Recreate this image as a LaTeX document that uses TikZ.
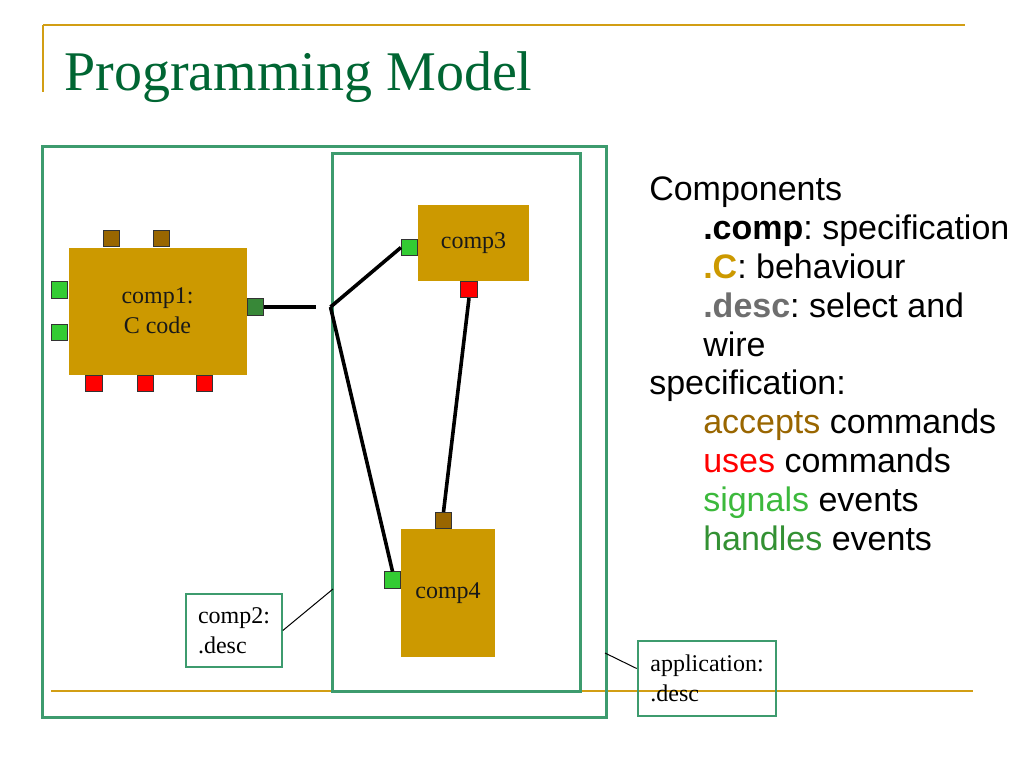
\documentclass[tikz,border=0pt]{standalone}
\usepackage{fontspec}
\setmainfont{Liberation Serif}
\newfontfamily\slidesans{Liberation Sans}
\frenchspacing

\definecolor{titlegreen}{RGB}{0,102,51}
\definecolor{rulegold}{RGB}{210,158,20}
\definecolor{boxgreen}{RGB}{61,155,110}
\definecolor{compgold}{RGB}{204,153,0}
\definecolor{accbrown}{RGB}{153,102,0}
\definecolor{usered}{RGB}{255,0,0}
\definecolor{siggreen}{RGB}{51,204,51}
\definecolor{hndgreen}{RGB}{56,136,56}
\definecolor{sigtext}{RGB}{60,185,60}
\definecolor{hndtext}{RGB}{51,145,51}
\definecolor{desctext}{RGB}{110,110,110}

\tikzset{
  comp/.style={fill=compgold, inner sep=0pt, align=center, text=black!90,
    font=\fontsize{18}{22.5}\selectfont},
  port/.style={draw=black!80, line width=0.7pt, minimum size=12.2pt, inner sep=0pt},
  accport/.style={port, fill=accbrown},
  useport/.style={port, fill=usered},
  sigport/.style={port, fill=siggreen},
  hndport/.style={port, fill=hndgreen},
  wire/.style={line width=2.7pt, black},
  boxline/.style={draw=boxgreen, line width=2.25pt, inner sep=0pt},
  labelbox/.style={draw=boxgreen, align=left, inner sep=0pt,
    font=\fontsize{18}{22.5}\selectfont},
  goldrule/.style={draw=rulegold, line width=2pt},
  spectext/.style={anchor=base west, inner sep=0pt,
    font=\slidesans\fontsize{25.5}{29}\selectfont},
}

\begin{document}
\begin{tikzpicture}[x=0.75pt,y=-0.75pt]
\fill[white] (0,0) rectangle (1024,768);
\useasboundingbox (0,0) rectangle (1024,768);

% slide rules and title
\draw[goldrule] (43,25) -- (965,25);
\draw[goldrule, line width=1.5pt] (43,25) -- (43,92);
\draw[goldrule] (51,691) -- (973,691);
\node[anchor=base west, inner sep=0pt, text=titlegreen,
      font=\fontsize{42}{42}\selectfont] (title) at (64,90) {Programming Model};

% application and comp2 boxes
\node[boxline, minimum width=423pt, minimum height=428.25pt] (appbox) at (324,431.5) {};
\node[boxline, minimum width=186pt, minimum height=403.5pt] (c2box) at (456,422) {};

% components
\node[comp, minimum width=133.5pt, minimum height=95.25pt] (comp1) at (157.5,311) {comp1:\\C code};
\node[comp, minimum width=83.25pt, minimum height=57pt] (comp3) at (473.5,243) {comp3};
\node[comp, minimum width=70.5pt, minimum height=96pt] (comp4) at (448,593) {comp4};

% interfaces
\node[accport] (c1a1) at (111.5,238.5) {};
\node[accport] (c1a2) at (161.5,238.5) {};
\node[sigport] (c1s1) at (59.5,290) {};
\node[sigport] (c1s2) at (59.5,332.5) {};
\node[hndport] (c1h) at (255.5,307) {};
\node[useport] (c1u1) at (94,383.5) {};
\node[useport] (c1u2) at (145.5,383.5) {};
\node[useport] (c1u3) at (204.5,383.5) {};
\node[sigport] (c3s) at (409.5,247.5) {};
\node[useport] (c3u) at (469,289.5) {};
\node[accport] (c4a) at (443.5,520.5) {};
\node[sigport] (c4s) at (392.5,580) {};

% wiring
\coordinate (c1end) at (316,307);
\coordinate (j) at (c2box.west |- c1h.east);
\draw[wire] (c1h.east) -- (c1end);
\draw[wire] (j) -- (c3s.west);
\draw[wire] (j) -- (c4s.north);
\draw[wire] (c3u.south) -- (c4a.north);

% labels
\node[labelbox, line width=1.2pt, minimum width=72pt, minimum height=54.75pt] (lbl2) at (234,630.5) {comp2:\\.desc};
\node[labelbox, line width=2pt, minimum width=103.5pt, minimum height=56.25pt] (lblapp) at (707,678.5) {application:\\.desc};
\coordinate (c2tip) at (333,589);
\coordinate (apptip) at (605,653);
\draw[line width=0.75pt] (lbl2.east) -- (c2tip);
\draw[line width=0.75pt] (apptip) -- ([yshift=7.5pt]lblapp.west);

% legend text
\foreach \yb/\ind/\txt [count=\i] in {
  200/0/Components,
  239/54/{\textbf{.comp}: specification},
  278/54/{\textbf{\textcolor{compgold}{.C}}: behaviour},
  317/54/{\textbf{\textcolor{desctext}{.desc}}: select and},
  356/54/wire,
  394/0/specification:,
  433/54/{\textcolor{accbrown}{accepts} commands},
  472/54/{\textcolor{usered}{uses} commands},
  511/54/{\textcolor{sigtext}{signals} events},
  550/54/{\textcolor{hndtext}{handles} events}}
  \node[spectext] (spec\i) at (649+\ind,\yb) {\txt};
\end{tikzpicture}
\end{document}
